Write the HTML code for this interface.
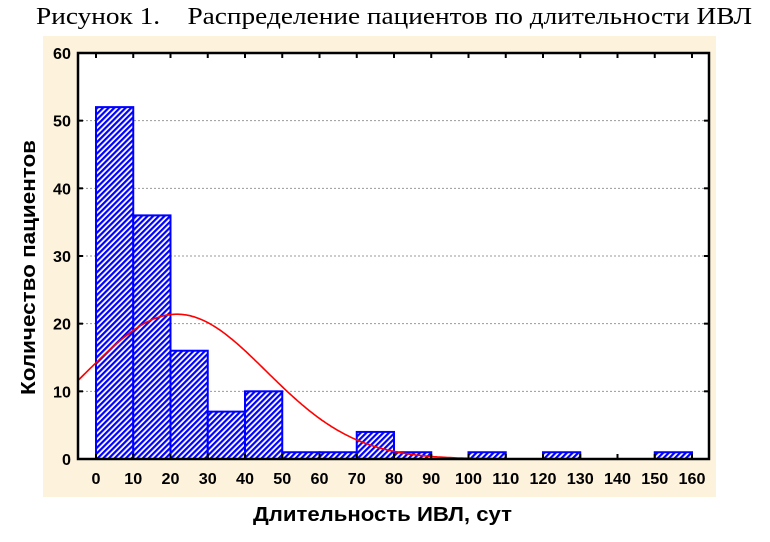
<!DOCTYPE html>
<html><head><meta charset="utf-8"><style>
body{margin:0;background:#fff;width:770px;height:542px;overflow:hidden}
svg{display:block}
</style></head><body>
<svg id="s" width="770" height="542" xmlns="http://www.w3.org/2000/svg">
<defs>
<pattern id="h" patternUnits="userSpaceOnUse" width="4" height="4" patternTransform="rotate(45)">
<rect width="4" height="4" fill="#fff"/><rect width="2.2" height="4" fill="#0000ff"/>
</pattern>
</defs>
<text x="36" y="24" font-family="Liberation Serif, serif" font-size="24" fill="#000" textLength="716" lengthAdjust="spacingAndGlyphs" xml:space="preserve">Рисунок 1.    Распределение пациентов по длительности ИВЛ</text>
<rect x="43" y="36" width="673" height="461" fill="#fdf2dc"/>
<rect x="78" y="53" width="631" height="406" fill="#fff"/>
<g id="grid" stroke="#999" stroke-dasharray="2,2" stroke-width="1"></g>
<g id="bars"></g>
<path id="curve" fill="none" stroke="#ff0000" stroke-width="1.6"/>
<rect x="78" y="53" width="631" height="406" fill="none" stroke="#000" stroke-width="2.5"/>
<g id="ticks" stroke="#000" stroke-width="2"></g>
<g id="lab" font-family="Liberation Sans, sans-serif" font-weight="bold" font-size="16" fill="#000"></g>
<text x="253" y="521" textLength="259" lengthAdjust="spacingAndGlyphs" font-family="Liberation Sans, sans-serif" font-weight="bold" font-size="20">Длительность ИВЛ, сут</text>
<text transform="translate(35,395) rotate(-90)" textLength="255" lengthAdjust="spacingAndGlyphs" font-family="Liberation Sans, sans-serif" font-weight="bold" font-size="20">Количество пациентов</text>
</svg>
<script>
var NS="http://www.w3.org/2000/svg";
function X(v){return 96+v*3.725;}
function Y(v){return 459-v*6.767;}
function el(p,t,a){var e=document.createElementNS(NS,t);for(var k in a)e.setAttribute(k,a[k]);document.getElementById(p).appendChild(e);return e;}
for(var g=10;g<=50;g+=10)el("grid","line",{x1:78,x2:709,y1:Y(g),y2:Y(g)});
var d=[52,36,16,7,10,1,1,4,1,0,1,0,1,0,0,1];
d.forEach(function(v,i){if(v>0)el("bars","rect",{x:X(i*10),y:Y(v),width:X(10)-X(0),height:459-Y(v),fill:"url(#h)",stroke:"#0000ff","stroke-width":2});});
var p="";for(var px=78;px<=709;px+=2){var v=(px-96)/3.725;var y=21.4*Math.exp(-Math.pow(v-21.7,2)/(2*24*24));p+=(p?"L":"M")+px+","+Y(y).toFixed(1);}
document.getElementById("curve").setAttribute("d",p);
for(var t=0;t<=160;t+=10){el("ticks","line",{x1:X(t),x2:X(t),y1:459,y2:454});el("ticks","line",{x1:X(t),x2:X(t),y1:53,y2:58});
var s=String(t);var e=el("lab","text",{x:X(t)-s.length*4.5,y:484,textLength:s.length*9,lengthAdjust:"spacingAndGlyphs"});e.textContent=s;}
for(var g=0;g<=60;g+=10){el("ticks","line",{x1:78,x2:83,y1:Y(g),y2:Y(g)});el("ticks","line",{x1:709,x2:704,y1:Y(g),y2:Y(g)});
var s=String(g);var e=el("lab","text",{x:71-s.length*9,y:Y(g)+6,textLength:s.length*9,lengthAdjust:"spacingAndGlyphs"});e.textContent=s;}
</script>
</body></html>
